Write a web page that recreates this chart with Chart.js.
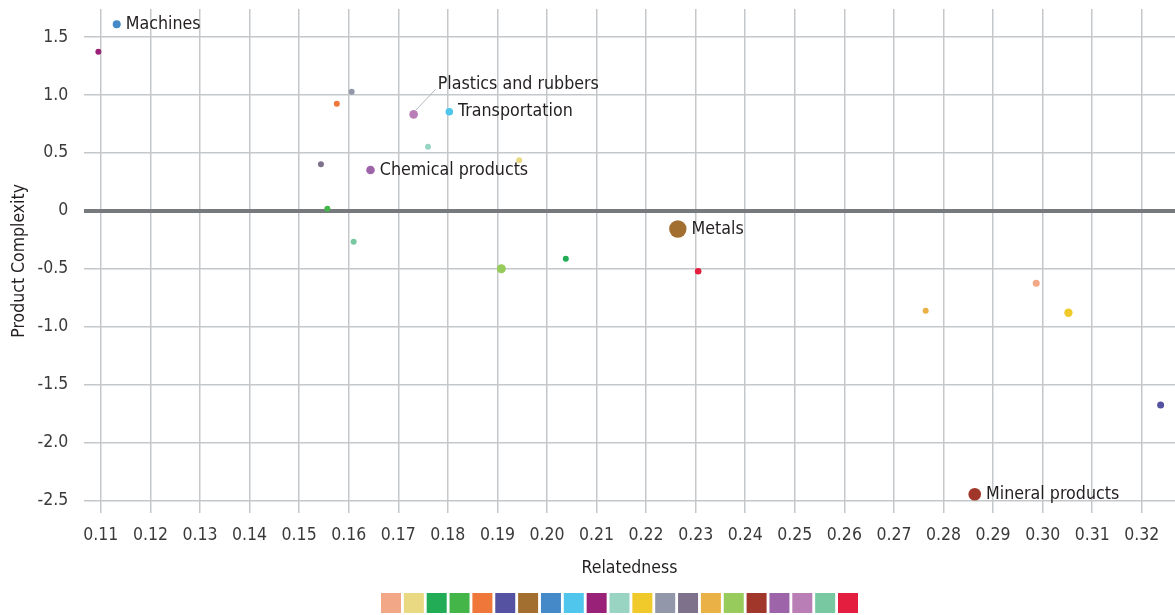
<!DOCTYPE html>
<html>
<head>
<meta charset="utf-8">
<title>Relatedness and Product Complexity</title>
<script src="https://cdn.jsdelivr.net/npm/chart.js@4.4.1/dist/chart.umd.min.js"></script>
<style>
  html, body { margin: 0; padding: 0; background: #ffffff; }
  #wrap { width: 1175px; height: 615px; position: relative; }
</style>
</head>
<body>
<div id="wrap"><canvas id="chart" width="1175" height="615"></canvas></div>
<script>
// Product groups, in legend order. Only the named ones carry an on-chart label.
const categories = [
  '', '', '', '', '', '',
  'Metals', 'Machines', 'Transportation',
  '', '', '', '', '', '', '',
  'Mineral products', 'Chemical products', 'Plastics and rubbers',
  '', ''
];
const relatedness = [
  0.2987, 0.1944, 0.2038, 0.1557, 0.1576, 0.3238,
  0.2264, 0.1132, 0.1803,
  0.1095, 0.1760, 0.3052, 0.1606, 0.1544, 0.2764, 0.1908,
  0.2863, 0.1644, 0.1731,
  0.1610, 0.2305
];
const complexity = [
  -0.626, 0.436, -0.414, 0.018, 0.925, -1.677,
  -0.157, 1.611, 0.856,
  1.374, 0.554, -0.880, 1.028, 0.402, -0.863, -0.500,
  -2.448, 0.352, 0.833,
  -0.267, -0.522
];
const bubbleSize = [
  3.5, 3, 3, 3, 3, 3.5,
  8.7, 4, 3.8,
  3, 3, 4.2, 3, 3, 3, 4.5,
  6.3, 4.3, 4.3,
  3, 3.3
];
const colors = [
  '#F2A886', '#E8D982', '#22AC56', '#44B649', '#F0773A', '#5652A2',
  '#A26F31', '#4589C8', '#51C6EC',
  '#992178', '#99D3C1', '#F0C92A', '#9298AA', '#7E718C', '#EAB246', '#97CB5B',
  '#A1372A', '#9D64A9', '#B97EB6',
  '#78C9A2', '#E31E3F'
];
const xTicks = [0.11, 0.12, 0.13, 0.14, 0.15, 0.16, 0.17, 0.18, 0.19, 0.20, 0.21,
                0.22, 0.23, 0.24, 0.25, 0.26, 0.27, 0.28, 0.29, 0.30, 0.31, 0.32];
const yTicks = [1.5, 1.0, 0.5, 0, -0.5, -1.0, -1.5, -2.0, -2.5];

const FONT = '"DejaVu Sans Condensed", "Liberation Sans Narrow", sans-serif';
Chart.defaults.font.family = FONT;

const datasets = categories.map((name, i) => ({
  label: name,
  data: [{ x: relatedness[i], y: complexity[i], r: bubbleSize[i] }],
  backgroundColor: colors[i],
  borderColor: colors[i],
  borderWidth: 0,
  hoverBorderWidth: 0
}));

// Labels placed beside their bubble; the plastics label sits up and to the right with a leader line.
const pointLabels = {
  id: 'pointLabels',
  afterDatasetsDraw(chart) {
    const ctx = chart.ctx;
    ctx.save();
    ctx.font = '17.7px ' + FONT;
    ctx.fillStyle = '#231f20';
    ctx.textBaseline = 'middle';
    ctx.textAlign = 'left';
    chart.data.datasets.forEach((ds, i) => {
      if (!ds.label) return;
      const el = chart.getDatasetMeta(i).data[0];
      const r = ds.data[0].r;
      if (ds.label === 'Plastics and rubbers') {
        ctx.strokeStyle = '#b4b7b9';
        ctx.lineWidth = 1;
        ctx.beginPath();
        ctx.moveTo(el.x + 2, el.y - 4);
        ctx.lineTo(el.x + 22, el.y - 25);
        ctx.stroke();
        ctx.fillText(ds.label, el.x + 24, el.y - 30);
      } else {
        ctx.fillText(ds.label, el.x + r + 5, el.y);
      }
    });
    ctx.restore();
  }
};

// Shift the colour key so it sits under the plot area.
const legendNudge = {
  id: 'legendNudge',
  afterLayout(chart) {
    const lg = chart.legend;
    if (!lg) return;
    lg.left += 32.5;
    lg.right += 32.5;
  }
};

new Chart(document.getElementById('chart'), {
  type: 'bubble',
  data: { datasets },
  plugins: [pointLabels, legendNudge],
  options: {
    responsive: false,
    animation: false,
    layout: { autoPadding: false, padding: { top: 9, right: 0, bottom: 0, left: 0 } },
    plugins: {
      tooltip: { enabled: true },
      legend: {
        display: true,
        position: 'bottom',
        align: 'center',
        maxHeight: 23.85,
        labels: {
          boxWidth: 20,
          boxHeight: 20,
          padding: 1.85,
          font: { size: 2 },
          generateLabels(chart) {
            return chart.data.datasets.map((ds, i) => ({
              text: '',
              fillStyle: ds.backgroundColor,
              strokeStyle: 'rgba(0,0,0,0)',
              lineWidth: 0,
              hidden: false,
              datasetIndex: i
            }));
          }
        }
      }
    },
    scales: {
      x: {
        type: 'linear',
        position: 'bottom',
        min: 0.1066,
        max: 0.3267,
        afterBuildTicks(scale) { scale.ticks = xTicks.map(v => ({ value: v })); },
        afterFit(scale) {
          scale.height = 78.45;
          scale.paddingLeft = 0;
          scale.paddingRight = 0;
        },
        border: { display: false },
        grid: { color: '#c4c8ca', lineWidth: 1.5, drawTicks: false },
        ticks: {
          autoSkip: false,
          maxRotation: 0,
          padding: 11.8,
          color: '#3a3a3a',
          font: { size: 17.5 },
          callback: v => Number(v).toFixed(2)
        },
        title: {
          display: true,
          text: 'Relatedness',
          color: '#231f20',
          font: { size: 17.5 },
          padding: { top: 0, bottom: 12.15 }
        }
      },
      y: {
        type: 'linear',
        position: 'left',
        min: -2.607,
        max: 1.743,
        afterBuildTicks(scale) { scale.ticks = yTicks.map(v => ({ value: v })); },
        afterFit(scale) {
          scale.width = 84;
          scale.paddingTop = 0;
          scale.paddingBottom = 0;
        },
        border: { display: false },
        grid: {
          drawTicks: false,
          color: ctx => (ctx.tick && ctx.tick.value === 0) ? '#767a7c' : '#c4c8ca',
          lineWidth: ctx => (ctx.tick && ctx.tick.value === 0) ? 4 : 1.5
        },
        ticks: {
          autoSkip: false,
          padding: 15.7,
          color: '#3a3a3a',
          font: { size: 17.5 },
          callback: v => (v === 0 ? '0' : Number(v).toFixed(1))
        },
        title: {
          display: true,
          text: 'Product Complexity',
          color: '#231f20',
          font: { size: 17.5 },
          padding: { top: 8.5, bottom: 0 }
        }
      }
    }
  }
});
</script>
</body>
</html>
